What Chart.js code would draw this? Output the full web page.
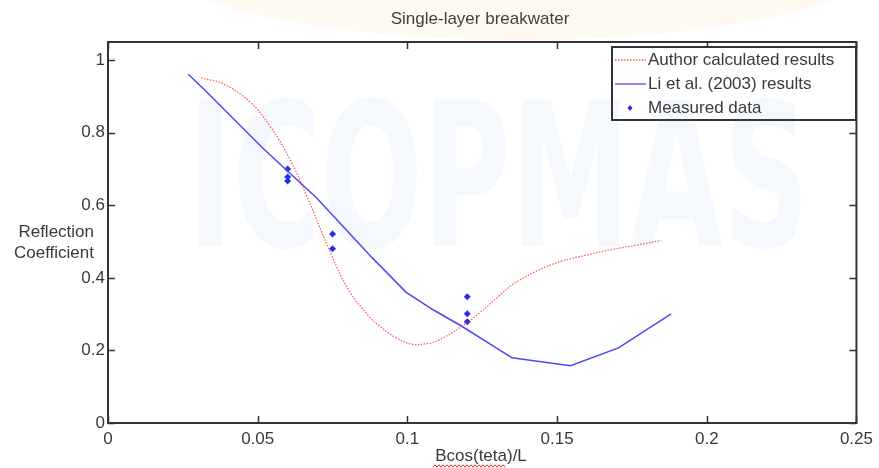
<!DOCTYPE html>
<html>
<head>
<meta charset="utf-8">
<script src="https://cdn.jsdelivr.net/npm/chart.js@4.4.1/dist/chart.umd.min.js"></script>
<style>
  html, body { margin: 0; padding: 0; background: #fff; }
  #wrap { width: 879px; height: 468px; position: relative; }
</style>
</head>
<body>
<div id="wrap"><canvas id="c" width="879" height="468"></canvas></div>
<script>
// values
const authorX = [0.0311, 0.0384, 0.0474, 0.0541, 0.0607, 0.0664, 0.0747, 0.0807, 0.0873, 0.0906, 0.0960, 0.1016, 0.1060, 0.1106, 0.1179, 0.1239, 0.1306, 0.1349, 0.1430, 0.1515, 0.1600, 0.1682, 0.1765, 0.1848];
const authorY = [0.951, 0.935, 0.885, 0.818, 0.728, 0.625, 0.462, 0.362, 0.293, 0.268, 0.236, 0.217, 0.218, 0.229, 0.265, 0.302, 0.350, 0.380, 0.418, 0.446, 0.463, 0.478, 0.490, 0.503];
const liX = [0.0268, 0.0324, 0.0514, 0.0697, 0.0883, 0.0996, 0.1090, 0.1179, 0.1306, 0.1349, 0.1545, 0.1705, 0.1881];
const liY = [0.961, 0.917, 0.760, 0.620, 0.455, 0.360, 0.310, 0.268, 0.202, 0.180, 0.158, 0.207, 0.301];
const measX = [0.06, 0.06, 0.06, 0.075, 0.075, 0.12, 0.12, 0.12];
const measY = [0.700, 0.678, 0.667, 0.521, 0.480, 0.348, 0.301, 0.279];
const xTicks = [0, 0.05, 0.1, 0.15, 0.2, 0.25];
const yTicks = [0, 0.2, 0.4, 0.6, 0.8, 1];
const seriesNames = ['Author calculated results', 'Li et al. (2003) results', 'Measured data'];

const pts = (xs, ys) => xs.map((x, i) => ({ x: x, y: ys[i] }));
const textCol = '#3a3a3a';
const axisCol = '#333';
const font = '17px "Liberation Sans", Arial, sans-serif';

// box, inward ticks, labels, legend, watermark
const decorations = {
    id: 'decorations',
    afterDatasetsDraw(chart) {
        const ctx = chart.ctx;
        const a = chart.chartArea;
        const xs = chart.scales.x, ys = chart.scales.y;
        ctx.save();
        ctx.strokeStyle = axisCol;
        ctx.lineWidth = 2;
        ctx.strokeRect(a.left, a.top, a.right - a.left, a.bottom - a.top);
        ctx.lineWidth = 1.5;
        ctx.beginPath();
        xTicks.forEach(v => {
            const px = Math.round(xs.getPixelForValue(v)) + 0.5;
            ctx.moveTo(px, a.bottom); ctx.lineTo(px, a.bottom - 7);
            ctx.moveTo(px, a.top); ctx.lineTo(px, a.top + 7);
        });
        yTicks.forEach(v => {
            const py = Math.round(ys.getPixelForValue(v)) + 0.5;
            ctx.moveTo(a.left, py); ctx.lineTo(a.left + 7, py);
            ctx.moveTo(a.right, py); ctx.lineTo(a.right - 7, py);
        });
        ctx.stroke();
        ctx.restore();
    },
    afterDraw(chart) {
        const ctx = chart.ctx;
        ctx.save();
        ctx.fillStyle = textCol;
        ctx.font = font;
        ctx.textBaseline = 'middle';
        ctx.textAlign = 'center';
        ctx.fillText('Single-layer breakwater', 480, 19);
        ctx.fillText('Bcos(teta)/L', 481, 456);
        ctx.textAlign = 'right';
        ctx.fillText('Reflection', 94, 232);
        ctx.fillText('Coefficient', 94, 253);

        // spell-check squiggle under the x label
        ctx.strokeStyle = '#e03030';
        ctx.lineWidth = 1;
        ctx.beginPath();
        for (let x = 433, k = 0; x <= 506; x += 2, k++) {
            const y = 466 + (k % 2 ? -1.2 : 1.2);
            if (k === 0) ctx.moveTo(x, y); else ctx.lineTo(x, y);
        }
        ctx.stroke();

        // legend box
        const lx = 612, ly = 47, lw = 244, lh = 73;
        ctx.fillStyle = '#fff';
        ctx.fillRect(lx, ly, lw, lh);
        ctx.strokeStyle = axisCol;
        ctx.lineWidth = 2;
        ctx.strokeRect(lx, ly, lw, lh);
        const rows = [60, 84, 108];
        ctx.lineWidth = 1.3;
        ctx.strokeStyle = 'rgba(255,40,40,0.75)';
        ctx.setLineDash([1.5, 1.5]);
        ctx.beginPath(); ctx.moveTo(615, rows[0]); ctx.lineTo(646, rows[0]); ctx.stroke();
        ctx.setLineDash([]);
        ctx.strokeStyle = '#4a4af2';
        ctx.beginPath(); ctx.moveTo(615, rows[1]); ctx.lineTo(646, rows[1]); ctx.stroke();
        ctx.fillStyle = '#2a2af0';
        ctx.beginPath();
        ctx.moveTo(630, rows[2] - 3); ctx.lineTo(632.5, rows[2]); ctx.lineTo(630, rows[2] + 3); ctx.lineTo(627.5, rows[2]);
        ctx.closePath(); ctx.fill();
        ctx.fillStyle = textCol;
        ctx.textAlign = 'left';
        seriesNames.forEach((n, i) => ctx.fillText(n, 648, rows[i]));

        // faint watermark over everything
        ctx.globalAlpha = 0.06;
        ctx.fillStyle = '#f5a623';
        ctx.beginPath();
        ctx.ellipse(520, -40, 360, 80, 0, 0, Math.PI * 2);
        ctx.fill();
        ctx.globalAlpha = 0.05;
        ctx.fillStyle = '#3a6cc8';
        ctx.font = 'bold 200px "DejaVu Sans", sans-serif';
        ctx.textBaseline = 'alphabetic';
        ctx.translate(188, 246);
        ctx.scale(0.6, 1);
        ctx.fillText('ICOPMAS', 0, 0);
        ctx.restore();
    }
};

new Chart(document.getElementById('c'), {
    type: 'scatter',
    data: {
        datasets: [{
            label: seriesNames[0],
            data: pts(authorX, authorY),
            showLine: true,
            borderColor: 'rgba(255,40,40,0.75)',
            borderWidth: 1.3,
            borderDash: [1.5, 1.5],
            pointRadius: 0,
            tension: 0.4
        }, {
            label: seriesNames[1],
            data: pts(liX, liY),
            showLine: true,
            borderColor: '#4a4af2',
            borderWidth: 1.5,
            pointRadius: 0,
            tension: 0
        }, {
            label: seriesNames[2],
            data: pts(measX, measY),
            showLine: false,
            pointStyle: 'rectRot',
            pointRadius: 3.5,
            backgroundColor: '#2a2af0',
            borderColor: '#2a2af0',
            borderWidth: 0
        }]
    },
    options: {
        responsive: false,
        animation: false,
        layout: { padding: { top: 42, right: 20, left: 0, bottom: 0 } },
        plugins: { legend: { display: false }, tooltip: { enabled: false } },
        scales: {
            x: {
                type: 'linear', min: 0, max: 0.25,
                afterBuildTicks: s => { s.ticks = xTicks.map(v => ({ value: v })); },
                afterFit: s => { s.height = 45; },
                grid: { display: false, drawTicks: false },
                border: { display: false },
                ticks: {
                    padding: 6, color: textCol,
                    font: { family: '"Liberation Sans", Arial, sans-serif', size: 17 },
                    callback: v => String(+v.toFixed(2))
                }
            },
            y: {
                type: 'linear', min: 0, max: 1.05,
                afterBuildTicks: s => { s.ticks = yTicks.map(v => ({ value: v })); },
                afterFit: s => { s.width = 108; },
                grid: { display: false, drawTicks: false },
                border: { display: false },
                ticks: {
                    padding: 3, color: textCol,
                    font: { family: '"Liberation Sans", Arial, sans-serif', size: 17 },
                    callback: v => String(+v.toFixed(1))
                }
            }
        }
    },
    plugins: [decorations]
});
</script>
</body>
</html>
